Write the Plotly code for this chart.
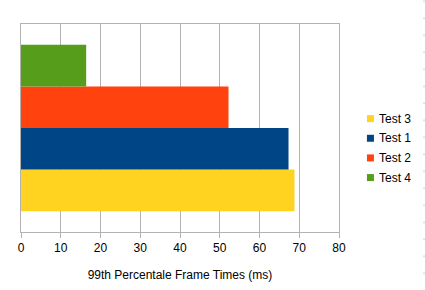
import plotly.graph_objects as go

# Data
series_names = ["Test 3", "Test 1", "Test 2", "Test 4"]
series_values = [68.8, 67.3, 52.2, 16.4]
series_colors = ["#FFD320", "#004586", "#FF420E", "#579D1C"]
category = [""]
x_tick_vals = [0, 10, 20, 30, 40, 50, 60, 70, 80]
x_title = "99th Percentale Frame Times (ms)"

W, H = 425, 290
ML, MR, MT, MB = 21, 86.4, 23.7, 57.7
PW = W - ML - MR
PH = H - MT - MB

FONT = "Liberation Sans, Arial, sans-serif"

fig = go.Figure()
for name, val, col in zip(series_names, series_values, series_colors):
    fig.add_trace(go.Bar(
        x=[val], y=category, name=name, orientation="h",
        marker=dict(color=col, line=dict(width=0)),
        showlegend=False,
    ))

def px_to_paper_x(px):
    return (px - ML) / PW

def px_to_paper_y(py):
    return (H - MB - py) / PH

# Legend drawn as shapes + text
shapes = []
annotations = []
for i, (name, col) in enumerate(zip(series_names, series_colors)):
    cy = 118.6 + i * 19.7
    shapes.append(dict(
        type="rect", xref="paper", yref="paper",
        x0=px_to_paper_x(366.5), x1=px_to_paper_x(373.5),
        y0=px_to_paper_y(cy + 3.5), y1=px_to_paper_y(cy - 3.5),
        fillcolor=col, line=dict(width=0),
    ))
    annotations.append(dict(
        xref="paper", yref="paper",
        x=px_to_paper_x(376.5), y=px_to_paper_y(cy),
        xanchor="left", yanchor="middle", showarrow=False,
        text=name, font=dict(family=FONT, size=12, color="#000000"),
    ))

# faint dotted line at right edge
shapes.append(dict(
    type="line", xref="paper", yref="paper",
    x0=px_to_paper_x(423.5), x1=px_to_paper_x(423.5),
    y0=px_to_paper_y(0), y1=px_to_paper_y(290),
    line=dict(color="#c8c8c8", width=1, dash="2px,15px"),
))

fig.update_layout(
    width=W, height=H,
    margin=dict(l=ML, r=MR, t=MT, b=MB, pad=0),
    paper_bgcolor="white", plot_bgcolor="white",
    barmode="group", bargap=0.2, bargroupgap=0,
    font=dict(family=FONT, size=12, color="#000000"),
    shapes=shapes, annotations=annotations,
    showlegend=False,
)
fig.update_xaxes(
    range=[0, 80], tickvals=x_tick_vals, ticktext=[str(v) for v in x_tick_vals],
    showgrid=True, gridcolor="#b3b3b3", gridwidth=1,
    showline=True, linecolor="#b3b3b3", linewidth=1, mirror=True,
    ticks="outside", ticklen=5, tickcolor="#b3b3b3", tickwidth=1,
    tickfont=dict(family=FONT, size=12, color="#000000"),
    title=dict(text=x_title, font=dict(family=FONT, size=12, color="#000000"), standoff=16),
    zeroline=False, fixedrange=True, automargin=False,
)
fig.update_yaxes(
    showticklabels=False, showgrid=False,
    showline=True, linecolor="#b3b3b3", linewidth=1, mirror=True,
    ticks="", zeroline=False, automargin=False,
)

fig.write_html("out.html")
